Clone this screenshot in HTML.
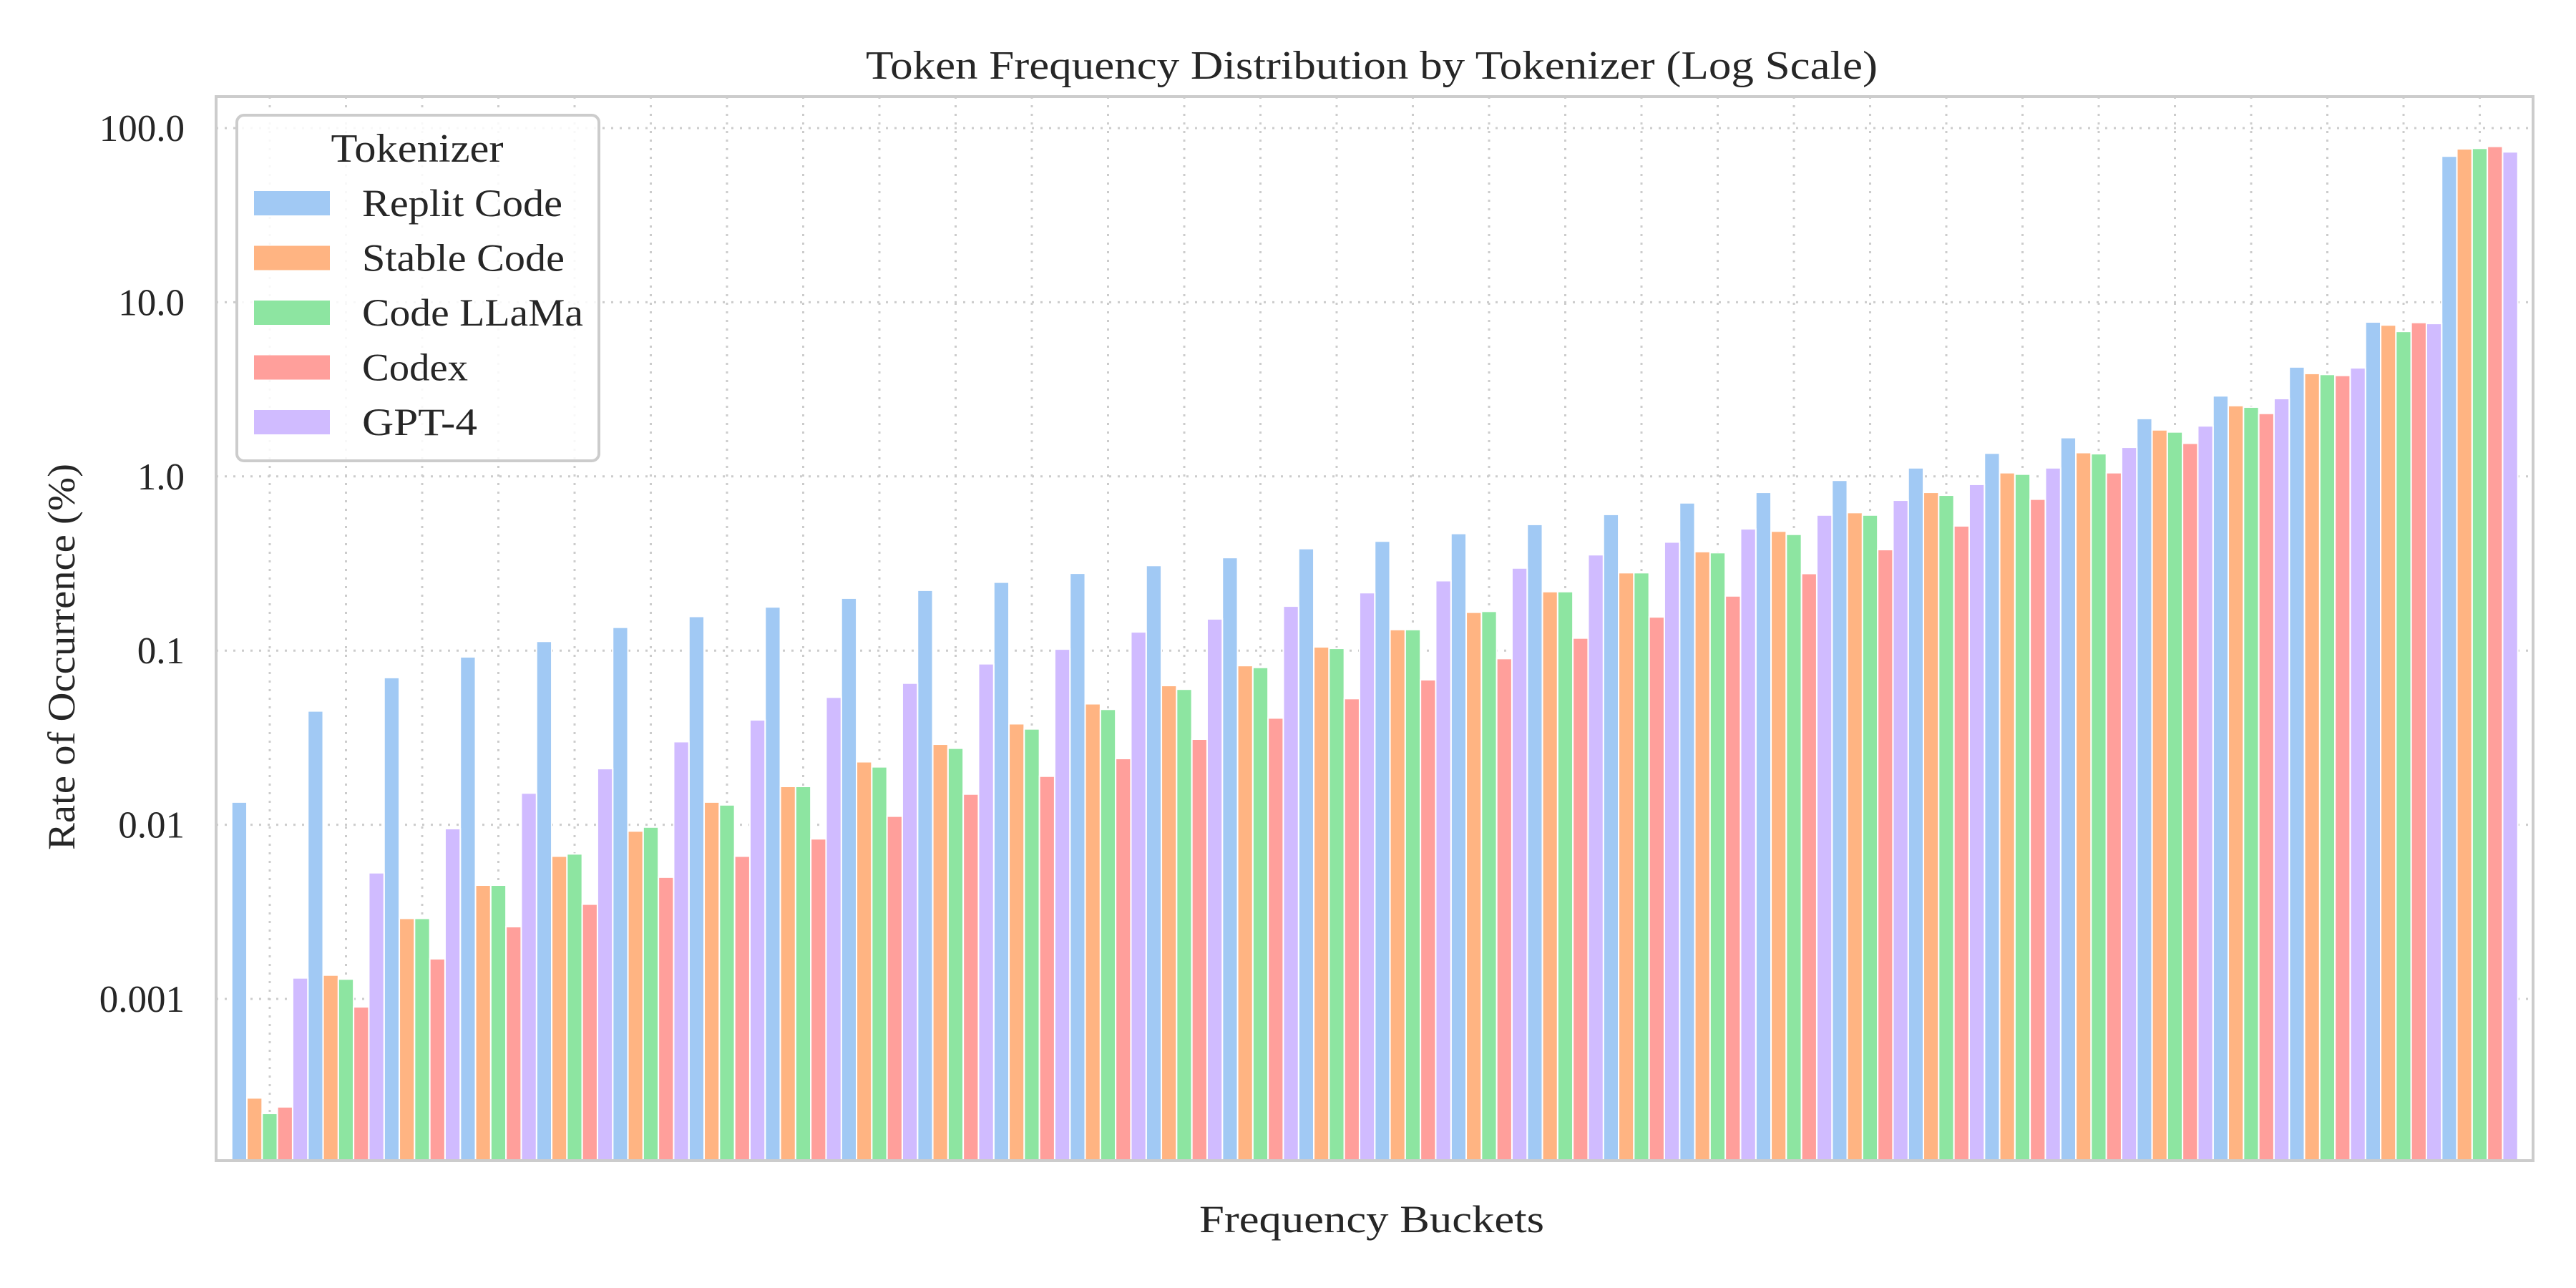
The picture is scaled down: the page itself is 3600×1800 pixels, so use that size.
<!DOCTYPE html>
<html><head><meta charset="utf-8">
<style>
html,body{margin:0;padding:0;background:#fff;}
svg{display:block;font-family:"Liberation Serif","DejaVu Serif",serif;}
</style></head>
<body>
<svg id="chart" width="3600" height="1800" viewBox="0 0 3600 1800" xmlns="http://www.w3.org/2000/svg">
<rect x="0" y="0" width="3600" height="1800" fill="#fff"/>
<text x="1917" y="110" text-anchor="middle" font-size="56" textLength="1414" lengthAdjust="spacingAndGlyphs" fill="#262626">Token Frequency Distribution by Tokenizer (Log Scale)</text>
<text x="1917" y="1722" text-anchor="middle" font-size="54" textLength="482" lengthAdjust="spacingAndGlyphs" fill="#262626">Frequency Buckets</text>
<text transform="translate(104,918) rotate(-90)" text-anchor="middle" font-size="54" textLength="540" lengthAdjust="spacingAndGlyphs" fill="#262626">Rate of Occurrence (%)</text>
<g id="grid"></g>
<g id="bars"></g>
<g id="yticks"></g>
<rect x="302" y="135" width="3238" height="1487" fill="none" stroke="#cccccc" stroke-width="4"/>
<g id="legend"></g>
</svg>
<script>
const seriesNames = ["Replit Code","Stable Code","Code LLaMa","Codex","GPT-4"];
const colors = ["#a1c9f4","#ffb482","#8de5a1","#ff9f9b","#d0bbff"];
const replit = [0.0135,0.045,0.07,0.092,0.113,0.136,0.157,0.178,0.2,0.222,0.247,0.278,0.308,0.342,0.385,0.425,0.47,0.53,0.605,0.705,0.81,0.95,1.12,1.36,1.67,2.15,2.9,4.25,7.7,69];
const stable = [0.00027,0.00137,0.0029,0.0045,0.0066,0.0092,0.0135,0.0166,0.023,0.029,0.038,0.0495,0.063,0.082,0.105,0.132,0.166,0.218,0.28,0.37,0.485,0.62,0.81,1.05,1.37,1.85,2.55,3.9,7.4,76];
const llama = [0.00022,0.0013,0.0029,0.0045,0.0068,0.0097,0.013,0.0166,0.0215,0.0275,0.0355,0.046,0.06,0.08,0.103,0.132,0.168,0.218,0.28,0.365,0.465,0.6,0.78,1.03,1.35,1.8,2.5,3.85,6.8,76.5];
const codex = [0.00024,0.0009,0.0017,0.0026,0.0035,0.005,0.0066,0.0083,0.0112,0.015,0.019,0.024,0.031,0.041,0.053,0.068,0.09,0.118,0.156,0.206,0.277,0.38,0.52,0.74,1.05,1.55,2.3,3.8,7.65,78.5];
const gpt4 = [0.00132,0.0053,0.0095,0.0152,0.021,0.03,0.04,0.054,0.065,0.084,0.102,0.128,0.152,0.18,0.215,0.252,0.298,0.355,0.42,0.5,0.6,0.73,0.9,1.12,1.47,1.95,2.8,4.2,7.55,73];
const seriesValues = [replit, stable, llama, codex, gpt4];
const yTickValues = [0.001,0.01,0.1,1,10,100];
const yTickLabels = ["0.001","0.01","0.1","1.0","10.0","100.0"];
const legendWidths = [280,283,309,148,161];

const NS = "http://www.w3.org/2000/svg";
const PL=302, PR=3540, PT=135, PB=1622;
const Y0=1396, DEC=243.4;
function yScale(v){ return Y0 - (Math.log10(v)+3)*DEC; }
function xScale(i){ return 377 + 106.5*i; }
const BW = 21.3;
function mk(tag, attrs, parent){ const e=document.createElementNS(NS,tag); for(const k in attrs) e.setAttribute(k,attrs[k]); parent.appendChild(e); return e; }

const grid=document.getElementById('grid');
const nGroups = replit.length;
for(let i=0;i<nGroups;i++){
  const l=mk('line',{x1:xScale(i),x2:xScale(i),y1:PT,y2:PB,stroke:'#cccccc','stroke-width':3,'stroke-dasharray':'3,9'},grid);
  
  
}
const yt=document.getElementById('yticks');
yTickValues.forEach((v,k)=>{
  const y=yScale(v);
  const l=mk('line',{x1:PL,x2:PR,y1:y,y2:y,stroke:'#cccccc','stroke-width':3,'stroke-dasharray':'3,9'},grid);
  
  
  const t=mk('text',{x:258,y:y+18,'text-anchor':'end','font-size':53,fill:'#262626'},yt);
  t.textContent=yTickLabels[k];
  
  
});
const bars=document.getElementById('bars');
seriesValues.forEach((vals,s)=>{
  vals.forEach((v,i)=>{
    const cx = xScale(i) + (s-2)*BW;
    const y = yScale(v);
    const r=mk('rect',{x:cx-BW/2,y:y,width:BW,height:PB-y,fill:colors[s],stroke:'#ffffff','stroke-width':2},bars);
    
    
  });
});
const lg=document.getElementById('legend');
const box=mk('rect',{x:331,y:161,width:506,height:483,rx:10,fill:'#ffffff','fill-opacity':0.85,stroke:'#cccccc','stroke-width':4},lg);


const lt=mk('text',{x:583,y:226,'text-anchor':'middle','font-size':56,textLength:241,lengthAdjust:'spacingAndGlyphs',fill:'#262626'},lg);
lt.textContent='Tokenizer';


seriesNames.forEach((n,s)=>{
  const cy=284+76.5*s;
  const g=mk('g',{},lg);
  
  
  mk('rect',{x:355,y:cy-17,width:106,height:34,fill:colors[s]},g);
  const t=mk('text',{x:506,y:cy+18,'font-size':54,textLength:legendWidths[s],lengthAdjust:'spacingAndGlyphs',fill:'#262626'},g);
  t.textContent=n;
});
</script>
</body></html>
